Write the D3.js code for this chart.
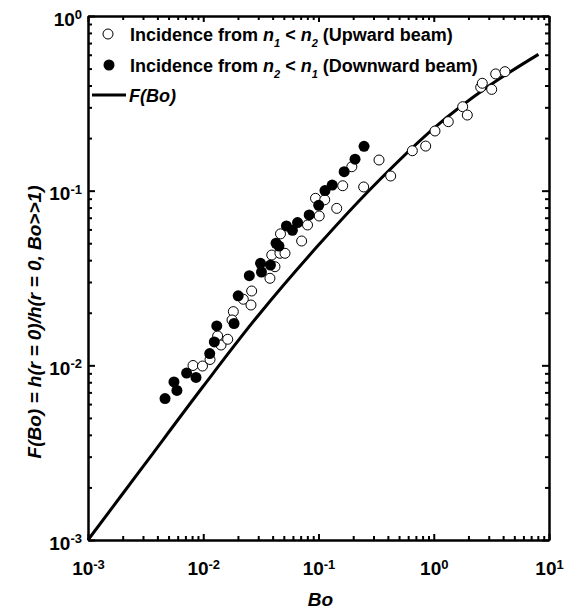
<!DOCTYPE html>
<html>
<head>
<meta charset="utf-8">
<script src="https://cdn.jsdelivr.net/npm/d3@7"></script>
<style>
  body { margin: 0; background: #fff; }
  svg text { font-family: "Liberation Sans", Arial, Helvetica, sans-serif; font-weight: bold; fill: #000; }
</style>
</head>
<body>
<script>
((() => {

// upward beam (open circles), Bo and F(Bo)
let upBo = [0.00815, 0.00985, 0.01145, 0.01333, 0.01426, 0.0163, 0.01824, 0.01777,
  0.02226, 0.0263, 0.02594, 0.0379, 0.0419, 0.0393, 0.0463, 0.0512, 0.0468,
  0.0714, 0.0803, 0.1014, 0.0942, 0.1132, 0.1439, 0.1622, 0.1946, 0.2466,
  0.335, 0.423, 0.652, 0.851, 1.025, 1.337, 1.783, 1.955, 2.555, 2.638,
  3.184, 3.447, 4.15];
let upF = [0.00998, 0.00991, 0.0108, 0.01473, 0.01307, 0.0141, 0.0203, 0.01818,
  0.0239, 0.02664, 0.02215, 0.0315, 0.0367, 0.0428, 0.0438, 0.0438, 0.0566,
  0.0515, 0.0636, 0.0716, 0.0904, 0.0887, 0.0792, 0.1067, 0.1371, 0.105,
  0.1498, 0.1213, 0.1693, 0.18, 0.2196, 0.2483, 0.3025, 0.271, 0.3907, 0.412,
  0.38, 0.466, 0.48];

// downward beam (filled circles)
let downBo = [0.00466, 0.00557, 0.00591, 0.00717, 0.00865, 0.01138, 0.01248, 0.0131,
  0.0185, 0.0201, 0.0251, 0.0314, 0.032, 0.0383, 0.0428, 0.0454, 0.0527,
  0.0594, 0.0658, 0.083, 0.1004, 0.1138, 0.1315, 0.167, 0.2075, 0.2484];
let downF = [0.00645, 0.00803, 0.00718, 0.00903, 0.00853, 0.01167, 0.01362, 0.0168,
  0.01736, 0.025, 0.0326, 0.0384, 0.0342, 0.0375, 0.05, 0.0482, 0.0628,
  0.0593, 0.0657, 0.0726, 0.0824, 0.1002, 0.1077, 0.1284, 0.1514, 0.1795];

// F(Bo) curve
let curveBo = [0.001, 0.003, 0.01, 0.03, 0.1, 0.3, 1, 3, 8.1];
let curveF = [0.001, 0.00263, 0.00759, 0.0193, 0.0488, 0.1064, 0.2275, 0.397, 0.603];

// tick labels (powers of ten)
let xExponents = [-3, -2, -1, 0, 1];
let yExponents = [-3, -2, -1, 0];

let width = 580,
  height = 614;

let margin = { top: 16, bottom: 74, left: 88, right: 31 };

let svg = d3
  .select('body')
  .append('svg')
    .attr('width', width)
    .attr('height', height)
    .style('background', '#fff');

let xScale = d3.scaleLog()
  .domain([1e-3, 10])
  .range([margin.left, width - margin.right]);

let yScale = d3.scaleLog()
  .domain([1e-3, 1])
  .range([height - margin.bottom, margin.top]);

let xMajor = xExponents.map(e => Math.pow(10, e));
let yMajor = yExponents.map(e => Math.pow(10, e));
let isMajor = v => Math.abs(Math.log10(v) - Math.round(Math.log10(v))) < 1e-9;
let xMinor = xScale.ticks().filter(v => !isMajor(v));
let yMinor = yScale.ticks().filter(v => !isMajor(v));

let plotBottom = height - margin.bottom;
let plotRight = width - margin.right;

function styleAxis(g) {
  g.select('.domain').attr('stroke-width', 2);
  g.selectAll('.tick line').attr('stroke-width', 2);
}

function powerLabel(sel, fmtExp) {
  sel.each(function(d) {
    let t = d3.select(this).text(null);
    t.append('tspan').text('10');
    t.append('tspan')
      .attr('dy', '-0.5em')
      .style('font-size', '13px')
      .text(Math.round(Math.log10(d)));
  });
}

// bottom axis with labels
let xAxis = svg.append('g')
  .attr('transform', `translate(0,${plotBottom})`)
  .call(d3.axisBottom(xScale).tickValues(xMajor).tickSizeInner(-6).tickSizeOuter(0).tickFormat(() => ''));
xAxis.selectAll('.tick text')
  .attr('y', 35)
  .attr('dy', null)
  .style('font-size', '19px')
  .call(powerLabel);
svg.append('g')
  .attr('transform', `translate(0,${plotBottom})`)
  .call(d3.axisBottom(xScale).tickValues(xMinor).tickSizeInner(-4).tickSizeOuter(0).tickFormat(''))
  .call(styleAxis);
styleAxis(xAxis);

// left axis with labels
let yAxis = svg.append('g')
  .attr('transform', `translate(${margin.left},0)`)
  .call(d3.axisLeft(yScale).tickValues(yMajor).tickSizeInner(-7).tickSizeOuter(0).tickFormat(() => ''));
yAxis.selectAll('.tick text')
  .attr('x', -6)
  .attr('dy', '9px')
  .style('font-size', '19px')
  .call(powerLabel);
svg.append('g')
  .attr('transform', `translate(${margin.left},0)`)
  .call(d3.axisLeft(yScale).tickValues(yMinor).tickSizeInner(-4).tickSizeOuter(0).tickFormat(''))
  .call(styleAxis);
styleAxis(yAxis);

// top and right frame
svg.append('g')
  .attr('transform', `translate(0,${margin.top})`)
  .call(d3.axisTop(xScale).tickValues(xMajor).tickSizeInner(-6).tickSizeOuter(0).tickFormat(''))
  .call(styleAxis);
svg.append('g')
  .attr('transform', `translate(0,${margin.top})`)
  .call(d3.axisTop(xScale).tickValues(xMinor).tickSizeInner(-4).tickSizeOuter(0).tickFormat(''))
  .call(styleAxis);
svg.append('g')
  .attr('transform', `translate(${plotRight},0)`)
  .call(d3.axisRight(yScale).tickValues(yMajor).tickSizeInner(-7).tickSizeOuter(0).tickFormat(''))
  .call(styleAxis);
svg.append('g')
  .attr('transform', `translate(${plotRight},0)`)
  .call(d3.axisRight(yScale).tickValues(yMinor).tickSizeInner(-4).tickSizeOuter(0).tickFormat(''))
  .call(styleAxis);

// axis titles
svg.append('text')
  .attr('x', (margin.left + plotRight) / 2 + 2)
  .attr('y', 606)
  .attr('text-anchor', 'middle')
  .style('font-size', '19px')
  .style('font-style', 'italic')
  .text('Bo');

svg.append('text')
  .attr('transform', 'translate(41,322) rotate(-90)')
  .attr('text-anchor', 'middle')
  .style('font-size', '19px')
  .style('font-style', 'italic')
  .text('F(Bo) = h(r = 0)/h(r = 0, Bo>>1)');

// curve
let curveData = curveBo.map((b, i) => ({ bo: b, f: curveF[i] }));
let line = d3.line()
  .x(d => xScale(d.bo))
  .y(d => yScale(d.f))
  .curve(d3.curveCatmullRom);

svg.append('path')
  .datum(curveData)
  .attr('d', line)
  .attr('fill', 'none')
  .attr('stroke', '#000')
  .attr('stroke-width', 3);

// open circles
let up = upBo.map((b, i) => ({ bo: b, f: upF[i] }));
svg.append('g')
  .selectAll('circle')
    .data(up)
  .enter()
  .append('circle')
    .attr('cx', d => xScale(d.bo))
    .attr('cy', d => yScale(d.f))
    .attr('r', 5)
    .attr('fill', '#fff')
    .attr('stroke', '#000')
    .attr('stroke-width', 1);

// filled circles
let down = downBo.map((b, i) => ({ bo: b, f: downF[i] }));
svg.append('g')
  .selectAll('circle')
    .data(down)
  .enter()
  .append('circle')
    .attr('cx', d => xScale(d.bo))
    .attr('cy', d => yScale(d.f))
    .attr('r', 5.5)
    .attr('fill', '#000');

// legend
let legend = svg.append('g').style('font-size', '18px');

function legendRow(y, a, b, beam) {
  let t = legend.append('text').attr('x', 130).attr('y', y);
  t.append('tspan').text('Incidence from ');
  t.append('tspan').style('font-style', 'italic').text('n');
  t.append('tspan').attr('dy', 6).style('font-size', '11px').style('font-style', 'italic').text(a);
  t.append('tspan').attr('dy', -6).text(' < ');
  t.append('tspan').style('font-style', 'italic').text('n');
  t.append('tspan').attr('dy', 6).style('font-size', '11px').style('font-style', 'italic').text(b);
  t.append('tspan').attr('dy', -6).text(' (' + beam + ')');
}

legend.append('circle')
  .attr('cx', 108).attr('cy', 34).attr('r', 5)
  .attr('fill', '#fff').attr('stroke', '#000').attr('stroke-width', 1);
legendRow(41, '1', '2', 'Upward beam');

legend.append('circle')
  .attr('cx', 109).attr('cy', 65).attr('r', 5.5)
  .attr('fill', '#000');
legendRow(72, '2', '1', 'Downward beam');

legend.append('line')
  .attr('x1', 92).attr('x2', 126).attr('y1', 95).attr('y2', 95)
  .attr('stroke', '#000').attr('stroke-width', 3);
legend.append('text')
  .attr('x', 129).attr('y', 102)
  .style('font-style', 'italic')
  .text('F(Bo)');

})());
</script>
</body>
</html>
